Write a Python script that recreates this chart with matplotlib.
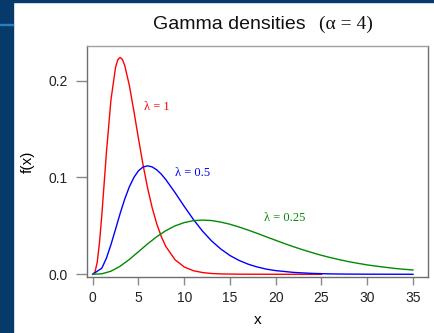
import matplotlib
matplotlib.use('Agg')
import matplotlib.pyplot as plt
from matplotlib.patches import Rectangle

# densities (shape 4)
x_red = [0, 0.25, 0.5, 0.75, 1, 1.25, 1.5, 2, 2.5, 2.75, 3, 3.25, 3.5, 4, 4.5, 5, 5.5, 6, 6.5,
         7, 7.5, 8, 9, 10, 11, 12, 13, 14, 16, 20, 25]
y_red = [0, 0.0022, 0.0126, 0.0332, 0.0613, 0.0933, 0.1255, 0.1804, 0.2138, 0.2216, 0.2240,
         0.2218, 0.2158, 0.1954, 0.1687, 0.1404, 0.1133, 0.0892, 0.0688, 0.0521, 0.0389, 0.0286,
         0.0150, 0.0076, 0.0037, 0.0018, 0.0008, 0.0004, 0.0001, 0, 0]

x_blue = [0, 1, 1.5, 2, 2.5, 3, 3.5, 4, 4.5, 5, 5.5, 6, 6.5, 7, 7.5, 8, 9, 10, 11, 12, 13, 14,
          15, 16, 17, 18, 19, 20, 22, 24, 26, 28, 30, 35]
y_blue = [0, 0.0063, 0.0166, 0.0307, 0.0466, 0.0628, 0.0776, 0.0902, 0.1000, 0.1069, 0.1108,
          0.1120, 0.1109, 0.1079, 0.1034, 0.0977, 0.0844, 0.0702, 0.0567, 0.0446, 0.0344, 0.0261,
          0.0194, 0.0143, 0.0104, 0.0075, 0.0053, 0.0038, 0.0019, 0.0009, 0.0004, 0.0002,
          0.0001, 0]

x_green = list(range(0, 36))
y_green = [0, 0.0005, 0.0032, 0.0083, 0.0153, 0.0233, 0.0314, 0.0388, 0.0451, 0.0500, 0.0534,
           0.0554, 0.0560, 0.0555, 0.0539, 0.0517, 0.0488, 0.0456, 0.0422, 0.0386, 0.0351, 0.0316,
           0.0283, 0.0252, 0.0223, 0.0196, 0.0172, 0.0150, 0.0130, 0.0113, 0.0097, 0.0084, 0.0072,
           0.0061, 0.0052, 0.0044]

x_ticks = [0, 5, 10, 15, 20, 25, 30, 35]
y_ticks = [0.0, 0.1, 0.2]
y_ticklabels = ['0.0', '0.1', '0.2']

plt.rcParams['font.family'] = ['Liberation Sans', 'DejaVu Sans']
serif = ['Liberation Serif', 'DejaVu Serif']

fig = plt.figure(figsize=(4.34, 3.33), dpi=100)
fig.patch.set_facecolor('white')

# slide background bits
fig.patches.append(Rectangle((0, 0), 13 / 434, 1, transform=fig.transFigure,
                             color='#053a6b', zorder=0))
fig.patches.append(Rectangle((0, 1 - 2 / 333), 1, 2 / 333, transform=fig.transFigure,
                             color='#053a6b', zorder=0))
fig.patches.append(Rectangle((0, 1 - 25 / 333), 13 / 434, 1.5 / 333, transform=fig.transFigure,
                             color='#2a7fc0', zorder=1))

ax = fig.add_axes([87 / 434, 1 - 277 / 333, (428 - 87) / 434, (277 - 46) / 333])
ax.plot(x_red, y_red, color='#ff0000', lw=1.0)
ax.plot(x_blue, y_blue, color='#0000ff', lw=1.0)
ax.plot(x_green, y_green, color='#008b00', lw=1.0)

ax.set_xlim(-0.62, 36.64)
ax.set_ylim(-0.0028, 0.2358)
ax.set_xticks(x_ticks)
ax.set_yticks(y_ticks)
ax.set_yticklabels(y_ticklabels)

for s in ax.spines.values():
    s.set_color('#6e6e6e')
    s.set_linewidth(1.0)
ax.spines['top'].set_color('#a0a0a0')
ax.tick_params(axis='x', length=6, width=1, color='#8a8a8a', labelsize=10, pad=4,
               labelcolor='#222222')
ax.tick_params(axis='y', length=8, width=1, color='#8a8a8a', labelsize=10, pad=6,
               labelcolor='#222222')

ax.set_xlabel('x', fontsize=11, labelpad=6)
ax.set_ylabel('f(x)', fontsize=11, labelpad=10)

ax.text(7.0, 0.173, 'λ = 1', color='#ff0000', family=serif, fontsize=9,
        ha='center', va='center')
ax.text(10.9, 0.105, 'λ = 0.5', color='#0000ff', family=serif, fontsize=9,
        ha='center', va='center')
ax.text(21.0, 0.058, 'λ = 0.25', color='#008b00', family=serif, fontsize=9,
        ha='center', va='center')

fig.text(153 / 434, 1 - 29 / 333, 'Gamma densities', fontsize=14,
         ha='left', va='baseline', color='#111111')
fig.text(373 / 434, 1 - 29 / 333, '(α = 4)', fontsize=14, family=serif,
         ha='right', va='baseline', color='#111111')

fig.savefig('out.png', dpi=100)
